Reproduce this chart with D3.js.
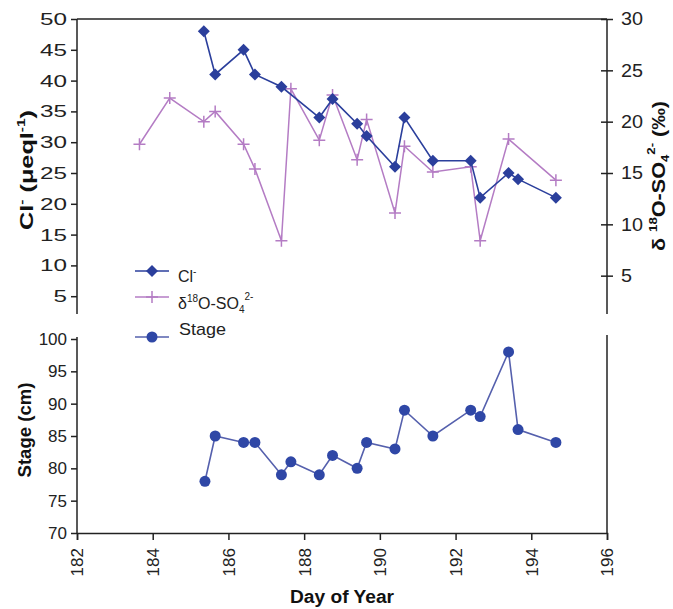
<!DOCTYPE html>
<html>
<head>
<meta charset="utf-8">
<script src="https://cdn.jsdelivr.net/npm/d3@7"></script>
<style>
  body { margin: 0; background: #fff; }
  svg { font-family: "Liberation Sans", Arial, sans-serif; }
  .tick text { font-size: 17px; fill: #222; }
  .axisTitle { font-size: 18px; font-weight: bold; fill: #111; }
</style>
</head>
<body>
<svg id="chart" width="673" height="609"></svg>
<script>
// data
var clDays = [185.35, 185.65, 186.4, 186.7, 187.4, 188.4, 188.75, 189.4, 189.65, 190.4, 190.65, 191.4, 192.4, 192.65, 193.4, 193.65, 194.65];
var clValues = [48, 41, 45, 41, 39, 34, 37, 33, 31, 26, 34, 27, 27, 21, 25, 24, 21];

var o18Days = [183.65, 184.45, 185.35, 185.65, 186.4, 186.7, 187.4, 187.65, 188.4, 188.75, 189.4, 189.65, 190.4, 190.65, 191.4, 192.4, 192.65, 193.4, 194.65];
var o18Values = [17.8, 22.3, 20.0, 21.0, 17.8, 15.4, 8.4, 23.2, 18.2, 22.6, 16.3, 20.2, 11.1, 17.6, 15.1, 15.6, 8.4, 18.3, 14.3];

var stageDays = [185.38, 185.65, 186.4, 186.7, 187.4, 187.65, 188.4, 188.75, 189.4, 189.65, 190.4, 190.65, 191.4, 192.4, 192.65, 193.4, 193.65, 194.65];
var stageValues = [78, 85, 84, 84, 79, 81, 79, 82, 80, 84, 83, 89, 85, 89, 88, 98, 86, 84];

var clTicks = [5, 10, 15, 20, 25, 30, 35, 40, 45, 50];
var o18Ticks = [5, 10, 15, 20, 25, 30];
var stageTicks = [70, 75, 80, 85, 90, 95, 100];
var dayTicks = [182, 184, 186, 188, 190, 192, 194, 196];

var clColor = "#2b3f9c", o18Color = "#b47cc4", stageLine = "#5560ad", stageDot = "#2f47a6";

var svg = d3.select("#chart");
var left = 77, right = 607;
var topY = 19, topBottom = 327, topAxisEnd = 314;
var botTop = 337, botBottom = 533;

var x = d3.scaleLinear().domain([182, 196]).range([left, right]);
var yCl = d3.scaleLinear().domain([0, 50]).range([topBottom, topY]);
var yO18 = d3.scaleLinear().domain([0, 30]).range([topBottom, topY]);
var yStage = d3.scaleLinear().domain([70, 100]).range([botBottom, botTop + 2]);

function axisLine(x1, y1, x2, y2) {
    svg.append("line").attr("x1", x1).attr("y1", y1).attr("x2", x2).attr("y2", y2)
        .attr("stroke", "#222").attr("stroke-width", 1.5);
}

// ---- top panel frame
axisLine(left, topY, right, topY);
axisLine(left, topY, left, topAxisEnd);
axisLine(right, topY, right, topAxisEnd);

var axL = svg.append("g").attr("transform", "translate(" + left + ",0)")
    .call(d3.axisLeft(yCl).tickValues(clTicks).tickSize(6).tickPadding(4));
axL.select(".domain").remove();
axL.selectAll(".tick line").attr("stroke", "#222").attr("stroke-width", 1.5);
axL.selectAll(".tick text").attr("font-family", null)
    .attr("textLength", function (d) { return String(d).length * 13.5; })
    .attr("lengthAdjust", "spacingAndGlyphs");

var axR = svg.append("g").attr("transform", "translate(" + right + ",0)")
    .call(d3.axisRight(yO18).tickValues(o18Ticks).tickSizeInner(6).tickSizeOuter(0));
axR.select(".domain").remove();
axR.selectAll(".tick line").attr("x1", -6).attr("stroke", "#222").attr("stroke-width", 1.5);
axR.selectAll(".tick text").attr("font-family", null).attr("x", 14).style("font-size", "18px")
    .attr("textLength", function (d) { return String(d).length * 11; })
    .attr("lengthAdjust", "spacingAndGlyphs");

// ---- bottom panel axes
axisLine(left, botTop, left, botBottom);
axisLine(right, botTop - 2, right, botBottom);

var axS = svg.append("g").attr("transform", "translate(" + left + ",0)")
    .call(d3.axisLeft(yStage).tickValues(stageTicks).tickSize(6).tickPadding(4));
axS.select(".domain").remove();
axS.selectAll(".tick line").attr("stroke", "#222").attr("stroke-width", 1.5);
axS.selectAll("text").attr("font-family", null);

var axX = svg.append("g").attr("transform", "translate(0," + botBottom + ")")
    .call(d3.axisBottom(x).tickValues(dayTicks).tickSize(7).tickFormat(d3.format("d")));
axX.select(".domain").attr("stroke", "#222").attr("stroke-width", 1.5);
axX.selectAll(".tick line").attr("stroke", "#222").attr("stroke-width", 1.5);
axX.selectAll(".tick text").attr("font-family", null)
    .attr("transform", "rotate(-90)").attr("text-anchor", "end")
    .attr("x", -15).attr("y", 0).attr("dy", "0.35em");

// ---- series
function points(days, vals) {
    return days.map(function (d, i) { return [d, vals[i]]; });
}
var clData = points(clDays, clValues);
var o18Data = points(o18Days, o18Values);
var stageData = points(stageDays, stageValues);

svg.append("path").datum(o18Data)
    .attr("fill", "none").attr("stroke", o18Color).attr("stroke-width", 1.5)
    .attr("d", d3.line().x(function (d) { return x(d[0]); }).y(function (d) { return yO18(d[1]); }));
svg.append("g").selectAll("path").data(o18Data).enter().append("path")
    .attr("transform", function (d) { return "translate(" + x(d[0]) + "," + yO18(d[1]) + ")"; })
    .attr("d", "M-6,0H6M0,-6V6").attr("stroke", o18Color).attr("stroke-width", 1.5);

svg.append("path").datum(clData)
    .attr("fill", "none").attr("stroke", clColor).attr("stroke-width", 1.6)
    .attr("d", d3.line().x(function (d) { return x(d[0]); }).y(function (d) { return yCl(d[1]); }));
svg.append("g").selectAll("path").data(clData).enter().append("path")
    .attr("transform", function (d) { return "translate(" + x(d[0]) + "," + yCl(d[1]) + ")"; })
    .attr("d", "M0,-6L6,0L0,6L-6,0Z").attr("fill", clColor);

svg.append("path").datum(stageData)
    .attr("fill", "none").attr("stroke", stageLine).attr("stroke-width", 1.6)
    .attr("d", d3.line().x(function (d) { return x(d[0]); }).y(function (d) { return yStage(d[1]); }));
svg.append("g").selectAll("circle").data(stageData).enter().append("circle")
    .attr("cx", function (d) { return x(d[0]); }).attr("cy", function (d) { return yStage(d[1]); })
    .attr("r", 5.5).attr("fill", stageDot);

// ---- legend
var lg = svg.append("g");
lg.append("line").attr("x1", 135).attr("x2", 169).attr("y1", 271).attr("y2", 271).attr("stroke", clColor).attr("stroke-width", 1.6);
lg.append("path").attr("transform", "translate(152,271)").attr("d", "M0,-6L6,0L0,6L-6,0Z").attr("fill", clColor);
var t1 = lg.append("text").attr("x", 178).attr("y", 282).attr("font-size", 16).attr("fill", "#222");
t1.append("tspan").text("Cl");
t1.append("tspan").attr("font-size", 10).attr("dy", -7).text("-");

lg.append("line").attr("x1", 135).attr("x2", 169).attr("y1", 297).attr("y2", 297).attr("stroke", o18Color).attr("stroke-width", 1.5);
lg.append("path").attr("transform", "translate(152,297)").attr("d", "M-6,0H6M0,-6V6").attr("stroke", o18Color).attr("stroke-width", 1.5);
var t2 = lg.append("text").attr("x", 178).attr("y", 309).attr("font-size", 16).attr("fill", "#222");
t2.append("tspan").text("\u03b4");
t2.append("tspan").attr("font-size", 10).attr("dy", -7).text("18");
t2.append("tspan").attr("dy", 7).text("O-SO");
t2.append("tspan").attr("font-size", 10).attr("dy", 4).text("4");
t2.append("tspan").attr("font-size", 10).attr("dy", -13).text("2-");

lg.append("line").attr("x1", 135).attr("x2", 169).attr("y1", 337).attr("y2", 337).attr("stroke", stageLine).attr("stroke-width", 1.6);
lg.append("circle").attr("cx", 152).attr("cy", 337).attr("r", 5.5).attr("fill", stageDot);
lg.append("text").attr("x", 179).attr("y", 335).attr("font-size", 17).attr("fill", "#222")
    .attr("textLength", 47).attr("lengthAdjust", "spacingAndGlyphs").text("Stage");

// ---- axis titles
var tl = svg.append("text").attr("class", "axisTitle")
    .attr("transform", "translate(33,170) rotate(-90)").attr("text-anchor", "middle");
tl.append("tspan").text("Cl");
tl.append("tspan").attr("font-size", 11).attr("dy", -8).text("-");
tl.append("tspan").attr("dy", 8).text(" (\u03bceql");
tl.append("tspan").attr("font-size", 11).attr("dy", -8).text("-1");
tl.append("tspan").attr("dy", 8).text(")");
tl.attr("textLength", 120).attr("lengthAdjust", "spacingAndGlyphs");

var tr = svg.append("text").attr("class", "axisTitle")
    .attr("transform", "translate(665,176) rotate(-90)").attr("text-anchor", "middle");
tr.append("tspan").text("\u03b4 ");
tr.append("tspan").attr("font-size", 11).attr("dy", -8).text("18");
tr.append("tspan").attr("dy", 8).text("O-SO");
tr.append("tspan").attr("font-size", 11).attr("dy", 4).text("4");
tr.append("tspan").attr("font-size", 11).attr("dy", -14).text("2-");
tr.append("tspan").attr("dy", 10).text(" (\u2030)");
tr.attr("textLength", 150).attr("lengthAdjust", "spacingAndGlyphs");

svg.append("text").attr("class", "axisTitle")
    .attr("transform", "translate(31,430) rotate(-90)").attr("text-anchor", "middle")
    .attr("textLength", 95).attr("lengthAdjust", "spacingAndGlyphs")
    .text("Stage (cm)");

svg.append("text").attr("class", "axisTitle")
    .attr("x", 342).attr("y", 603).attr("text-anchor", "middle")
    .attr("textLength", 104).attr("lengthAdjust", "spacingAndGlyphs")
    .text("Day of Year");
</script>
</body>
</html>
